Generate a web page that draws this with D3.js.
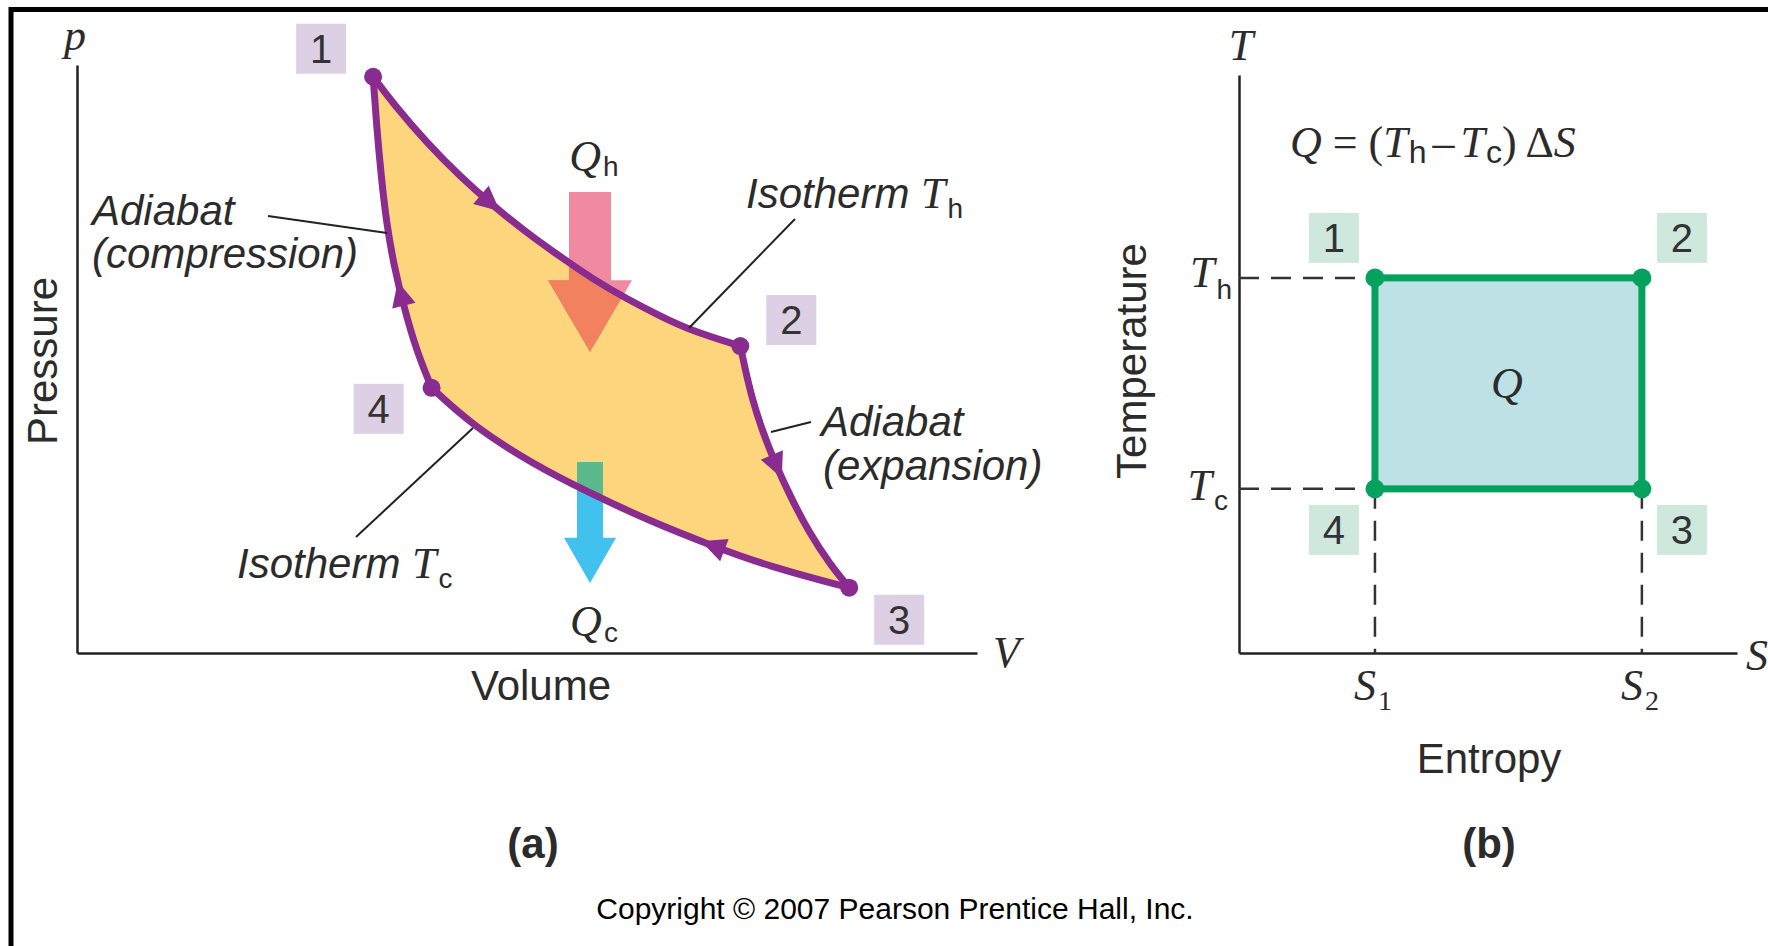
<!DOCTYPE html>
<meta charset="utf-8">
<style>
body { margin: 0; background: #fff; }
text { fill: #2b2b2b; }
.lab { font-family: "Liberation Sans", Arial, sans-serif; font-size: 42px; }
.ital { font-style: italic; }
.math { font-family: "Liberation Serif", "Times New Roman", serif; font-style: italic; font-size: 44px; }
.sub { font-family: "Liberation Sans", Arial, sans-serif; font-style: normal; font-size: 28px; }
.num { font-family: "Liberation Sans", Arial, sans-serif; font-size: 40px; fill: #333; }
.axis path { stroke: #222; stroke-width: 2.5px; }
.leader { stroke: #222; stroke-width: 2px; fill: none; }
.dash { stroke: #333; stroke-width: 2.5px; stroke-dasharray: 20,12; fill: none; }
.cycle { fill: none; stroke: #8a2b8f; stroke-width: 7px; stroke-linejoin: round; }
</style>
<body>
<script src="https://d3js.org/d3.v7.min.js"></script>
<script>

var width = 1768,
    height = 946;

// p-V diagram: states of the Carnot cycle (V, p in arbitrary units)
var stateNames = ["1", "2", "3", "4"];
var stateV = [3.29, 7.37, 8.58, 3.94];
var stateP = [9.80, 5.22, 1.11, 4.51];

// points read along each leg of the cycle
var isoHotV  = [3.29, 3.51, 3.89, 4.26, 4.59, 5.00, 5.37, 5.73, 6.11, 6.48, 6.81, 7.37];
var isoHotP  = [9.80, 9.35, 8.67, 8.10, 7.65, 7.14, 6.74, 6.36, 6.02, 5.73, 5.49, 5.22];
var adiExpV  = [7.37, 7.42, 7.50, 7.61, 7.75, 7.92, 8.13, 8.36, 8.58];
var adiExpP  = [5.22, 4.86, 4.33, 3.80, 3.25, 2.68, 2.06, 1.52, 1.11];
var isoColdV = [8.58, 7.67, 7.03, 6.37, 5.67, 5.07, 4.40, 3.94];
var isoColdP = [1.11, 1.48, 1.84, 2.24, 2.74, 3.21, 3.86, 4.51];
var adiCompV = [3.94, 3.77, 3.63, 3.52, 3.44, 3.38, 3.33, 3.29];
var adiCompP = [4.51, 5.15, 5.90, 6.60, 7.30, 8.10, 8.95, 9.80];

// where the direction arrowheads sit on each leg
var arrowV = [4.57, 7.78, 7.06, 3.59];
var arrowP = [7.64, 3.20, 1.74, 6.09];

// heat arrows Q_h (in) and Q_c (out)
var heatNames = ["h", "c"];
var heatV = [5.70, 5.70];
var heatTopP = [7.84, 3.25];
var heatHeadP = [6.34, 1.96];
var heatTipP = [5.12, 1.19];

// T-S diagram
var entropyTicks = [2.73, 8.09];   // S1, S2
var tempLevels = [6.49, 2.84];     // Th, Tc
var tsStateS = [2.73, 8.09, 8.09, 2.73];
var tsStateT = [6.49, 6.49, 2.84, 2.84];

var svg = d3.select("body").append("svg")
    .attr("width", width)
    .attr("height", height);

var defs = svg.append("defs");

// frame
svg.append("rect")
    .attr("x", 11).attr("y", 9.5)
    .attr("width", 2000).attr("height", 2000)
    .attr("fill", "none").attr("stroke", "#000").attr("stroke-width", 5);

// ---------- (a) p-V diagram ----------
var x = d3.scaleLinear().domain([0, 10]).range([77, 977]);
var y = d3.scaleLinear().domain([0, 10]).range([653, 65]);

var line = d3.line()
    .x(function(d) { return x(d[0]); })
    .y(function(d) { return y(d[1]); })
    .curve(d3.curveBasis);

var legs = [[isoHotV, isoHotP], [adiExpV, adiExpP], [isoColdV, isoColdP], [adiCompV, adiCompP]]
    .map(function(l) { return d3.zip(l[0], l[1]); });

var legPaths = legs.map(function(l) { return line(l); });
var cycleD = legPaths.map(function(d, i) { return i ? d.replace(/^M/, "L") : d; }).join("") + "Z";

defs.append("clipPath").attr("id", "cycleClip")
  .append("path").attr("d", cycleD);

var pa = svg.append("g");

pa.append("g")
    .attr("class", "axis")
    .attr("transform", "translate(0," + y(0) + ")")
    .call(d3.axisBottom(x).tickValues([]).tickSizeOuter(0));
pa.append("g")
    .attr("class", "axis")
    .attr("transform", "translate(" + x(0) + ",0)")
    .call(d3.axisLeft(y).tickValues([]).tickSizeOuter(0));

pa.append("path")
    .attr("d", cycleD)
    .attr("fill", "#fdd57c");

// heat arrows
var heatColor = ["#f08aa0", "#40c1ee"];
var heatOverlap = ["#f2825f", "#5bb98b"];
var shaftHalf = [21, 13], headHalf = [42, 26];

function heatArrow(i) {
  var cx = x(heatV[i]), t = y(heatTopP[i]), h = y(heatHeadP[i]), tip = y(heatTipP[i]);
  return d3.line()([
    [cx - shaftHalf[i], t], [cx + shaftHalf[i], t], [cx + shaftHalf[i], h],
    [cx + headHalf[i], h], [cx, tip], [cx - headHalf[i], h], [cx - shaftHalf[i], h]
  ]) + "Z";
}

heatNames.forEach(function(n, i) {
  pa.append("path").attr("d", heatArrow(i)).attr("fill", heatColor[i]);
  pa.append("path").attr("d", heatArrow(i)).attr("fill", heatOverlap[i])
      .attr("clip-path", "url(#cycleClip)");
});

var legSel = pa.selectAll(".cycle")
    .data(legPaths)
  .enter().append("path")
    .attr("class", "cycle")
    .attr("d", function(d) { return d; });

// direction arrowheads
legSel.each(function(d, i) {
  var node = this, L = node.getTotalLength(), tx = x(arrowV[i]), ty = y(arrowP[i]);
  var best = 0, bd = Infinity;
  for (var k = 0; k <= 400; k++) {
    var q = node.getPointAtLength(L * k / 400);
    var dd = (q.x - tx) * (q.x - tx) + (q.y - ty) * (q.y - ty);
    if (dd < bd) { bd = dd; best = L * k / 400; }
  }
  var p = node.getPointAtLength(best),
      a = node.getPointAtLength(Math.max(0, best - 2)),
      b = node.getPointAtLength(Math.min(L, best + 2));
  var ang = Math.atan2(b.y - a.y, b.x - a.x) * 180 / Math.PI;
  pa.append("path")
      .attr("d", "M14,0L-11,-12L-11,12Z")
      .attr("fill", "#8a2b8f")
      .attr("transform", "translate(" + p.x + "," + p.y + ")rotate(" + ang + ")");
});

// state dots and number boxes
var boxDx = [-52, 51, 50, -53], boxDy = [-28, -26, 32, 21];
stateNames.forEach(function(n, i) {
  pa.append("circle")
      .attr("cx", x(stateV[i])).attr("cy", y(stateP[i])).attr("r", 9)
      .attr("fill", "#8a2b8f");
  var bx = x(stateV[i]) + boxDx[i], by = y(stateP[i]) + boxDy[i];
  pa.append("rect")
      .attr("x", bx - 25).attr("y", by - 25).attr("width", 50).attr("height", 50)
      .attr("fill", "#ddd0e5");
  pa.append("text").attr("class", "num")
      .attr("x", bx).attr("y", by + 14).attr("text-anchor", "middle").text(n);
});

// math label with subscript
function mathText(g, px, py, main, sub, anchor, dy, subFont) {
  var t = g.append("text").attr("x", px).attr("y", py)
      .attr("text-anchor", anchor || "start");
  t.append("tspan").attr("class", "math").text(main);
  if (sub) {
    var s = t.append("tspan").attr("class", "sub").attr("dx", 2).attr("dy", dy || 9).text(sub);
    if (subFont) s.style("font-family", subFont);
  }
  return t;
}

mathText(pa, 75, 50, "p", null, "middle");
mathText(pa, 993, 667, "V", null, "start");
mathText(pa, 594, 171, "Q", "h", "middle", 5);
mathText(pa, 594, 636, "Q", "c", "middle", 6);

pa.append("text").attr("class", "lab")
    .attr("transform", "translate(57,361)rotate(-90)")
    .attr("text-anchor", "middle").text("Pressure");
pa.append("text").attr("class", "lab")
    .attr("x", 541).attr("y", 700).attr("text-anchor", "middle").text("Volume");

// annotations
pa.append("text").attr("class", "lab ital").attr("x", 92).attr("y", 225).text("Adiabat");
pa.append("text").attr("class", "lab ital").attr("x", 92).attr("y", 268).text("(compression)");
pa.append("line").attr("class", "leader").attr("x1", 268).attr("y1", 216).attr("x2", 387).attr("y2", 233);

var th = pa.append("text").attr("x", 746).attr("y", 208);
th.append("tspan").attr("class", "lab ital").text("Isotherm ");
th.append("tspan").attr("class", "math").text("T");
th.append("tspan").attr("class", "sub").attr("dx", 2).attr("dy", 10).text("h");
pa.append("line").attr("class", "leader").attr("x1", 795).attr("y1", 219).attr("x2", 689).attr("y2", 328);

pa.append("text").attr("class", "lab ital").attr("x", 821).attr("y", 436).text("Adiabat");
pa.append("text").attr("class", "lab ital").attr("x", 823).attr("y", 480).text("(expansion)");
pa.append("line").attr("class", "leader").attr("x1", 771).attr("y1", 432).attr("x2", 811).attr("y2", 422);

var tc = pa.append("text").attr("x", 237).attr("y", 578);
tc.append("tspan").attr("class", "lab ital").text("Isotherm ");
tc.append("tspan").attr("class", "math").text("T");
tc.append("tspan").attr("class", "sub").attr("dx", 2).attr("dy", 10).text("c");
pa.append("line").attr("class", "leader").attr("x1", 473).attr("y1", 428).attr("x2", 356).attr("y2", 537);

// ---------- (b) T-S diagram ----------
var xs = d3.scaleLinear().domain([0, 10]).range([1239, 1737]);
var yt = d3.scaleLinear().domain([0, 10]).range([653, 75]);

var pb = svg.append("g");

pb.append("g")
    .attr("class", "axis")
    .attr("transform", "translate(0," + yt(0) + ")")
    .call(d3.axisBottom(xs).tickValues([]).tickSizeOuter(0));
pb.append("g")
    .attr("class", "axis")
    .attr("transform", "translate(" + xs(0) + ",0)")
    .call(d3.axisLeft(yt).tickValues([]).tickSizeOuter(0));

// dashed guides
tempLevels.forEach(function(t) {
  pb.append("line").attr("class", "dash")
      .attr("x1", xs(0)).attr("x2", xs(entropyTicks[0])).attr("y1", yt(t)).attr("y2", yt(t));
});
entropyTicks.forEach(function(s) {
  pb.append("line").attr("class", "dash")
      .attr("x1", xs(s)).attr("x2", xs(s)).attr("y1", yt(tempLevels[1])).attr("y2", yt(0));
});

pb.append("rect")
    .attr("x", xs(entropyTicks[0])).attr("y", yt(tempLevels[0]))
    .attr("width", xs(entropyTicks[1]) - xs(entropyTicks[0]))
    .attr("height", yt(tempLevels[1]) - yt(tempLevels[0]))
    .attr("fill", "#bde1e4").attr("stroke", "#04a25c").attr("stroke-width", 7);

var gDx = [-41, 40, 40, -41], gDy = [-40, -40, 41, 41];
stateNames.forEach(function(n, i) {
  pb.append("circle")
      .attr("cx", xs(tsStateS[i])).attr("cy", yt(tsStateT[i])).attr("r", 9.5)
      .attr("fill", "#04a25c");
  var bx = xs(tsStateS[i]) + gDx[i], by = yt(tsStateT[i]) + gDy[i];
  pb.append("rect")
      .attr("x", bx - 25).attr("y", by - 25).attr("width", 50).attr("height", 50)
      .attr("fill", "#cfe8de");
  pb.append("text").attr("class", "num")
      .attr("x", bx).attr("y", by + 14).attr("text-anchor", "middle").text(n);
});

var serif = "Liberation Serif, Times New Roman, serif";
mathText(pb, 1241, 60, "T", null, "middle");
mathText(pb, 1746, 670, "S", null, "start");
mathText(pb, 1232, yt(tempLevels[0]) + 9, "T", "h", "end", 12);
mathText(pb, 1228, yt(tempLevels[1]) + 11, "T", "c", "end", 10);
mathText(pb, xs(entropyTicks[0]) - 2, 700, "S", "1", "middle", 10, serif);
mathText(pb, xs(entropyTicks[1]) - 2, 700, "S", "2", "middle", 10, serif);
mathText(pb, 1507, 398, "Q", null, "middle");

pb.append("text").attr("class", "lab")
    .attr("transform", "translate(1146,361)rotate(-90)")
    .attr("text-anchor", "middle").text("Temperature");
pb.append("text").attr("class", "lab")
    .attr("x", 1489).attr("y", 773).attr("text-anchor", "middle").text("Entropy");

// formula Q = (Th - Tc) dS
var f = pb.append("text").attr("x", 1290).attr("y", 157);
f.append("tspan").attr("class", "math").text("Q");
f.append("tspan").attr("class", "math").style("font-style", "normal").text(" = (");
f.append("tspan").attr("class", "math").text("T");
f.append("tspan").attr("class", "sub").style("font-size", "32px").attr("dx", 1).attr("dy", 6).text("h");
f.append("tspan").attr("class", "math").style("font-style", "normal").attr("dx", 6).attr("dy", -6).text("\u2013");
f.append("tspan").attr("class", "math").attr("dx", 6).text("T");
f.append("tspan").attr("class", "sub").style("font-size", "32px").attr("dx", 1).attr("dy", 6).text("c");
f.append("tspan").attr("class", "math").style("font-style", "normal").attr("dy", -6).text(")\u2009\u0394");
f.append("tspan").attr("class", "math").text("S");

// panel captions and copyright
svg.append("text").attr("class", "lab").style("font-weight", "bold")
    .attr("x", 533).attr("y", 858).attr("text-anchor", "middle").text("(a)");
svg.append("text").attr("class", "lab").style("font-weight", "bold")
    .attr("x", 1489).attr("y", 858).attr("text-anchor", "middle").text("(b)");
svg.append("text")
    .attr("x", 895).attr("y", 919).attr("text-anchor", "middle")
    .style("font-family", "Liberation Sans, Arial, sans-serif").style("font-size", "30px")
    .style("fill", "#000")
    .text("Copyright \u00a9 2007 Pearson Prentice Hall, Inc.");

</script>
